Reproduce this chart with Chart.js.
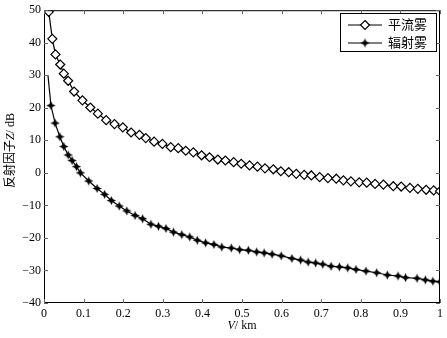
<!DOCTYPE html>
<html>
<head>
<meta charset="utf-8">
<script src="https://cdn.jsdelivr.net/npm/chart.js@4"></script>
<style>
  html, body { margin: 0; padding: 0; background: #fff; }
  #wrap { width: 447px; height: 338px; }
</style>
</head>
<body>
<div id="wrap"><canvas id="c" width="447" height="338"></canvas></div>
<script>
// values
const advX = [0.012, 0.021, 0.029, 0.041, 0.050, 0.061, 0.076, 0.097, 0.117, 0.136, 0.157, 0.178, 0.199, 0.220, 0.241, 0.257, 0.278, 0.299, 0.320, 0.339, 0.358, 0.377, 0.398, 0.418, 0.439, 0.458, 0.479, 0.498, 0.519, 0.539, 0.558, 0.579, 0.598, 0.618, 0.637, 0.657, 0.675, 0.696, 0.717, 0.738, 0.756, 0.775, 0.796, 0.815, 0.836, 0.857, 0.882, 0.902, 0.924, 0.944, 0.965, 0.984, 1.0];
const advY = [49.5, 41.2, 36.4, 33.3, 30.5, 28.3, 25.0, 22.3, 20.1, 18.2, 16.2, 15.0, 14.0, 12.4, 11.7, 10.7, 9.6, 8.9, 7.9, 7.6, 6.8, 6.3, 5.4, 4.8, 4.1, 3.8, 3.3, 2.8, 2.3, 1.9, 1.4, 1.1, 0.5, 0.2, -0.3, -0.6, -0.8, -1.3, -1.6, -1.8, -2.3, -2.6, -2.9, -3.0, -3.4, -3.6, -4.1, -4.2, -4.6, -4.9, -5.2, -5.4, -5.6];

const radX = [0.010, 0.0175, 0.028, 0.040, 0.050, 0.061, 0.071, 0.082, 0.092, 0.113, 0.134, 0.153, 0.170, 0.190, 0.209, 0.230, 0.249, 0.270, 0.289, 0.308, 0.327, 0.348, 0.368, 0.387, 0.408, 0.429, 0.449, 0.473, 0.494, 0.516, 0.537, 0.556, 0.576, 0.599, 0.626, 0.648, 0.667, 0.686, 0.704, 0.725, 0.746, 0.767, 0.788, 0.813, 0.840, 0.867, 0.894, 0.913, 0.942, 0.963, 0.982, 1.0];
const radY = [30.0, 20.7, 15.3, 11.1, 8.1, 5.5, 3.8, 1.9, 0.0, -2.5, -4.8, -6.6, -8.5, -10.2, -11.7, -13.1, -14.1, -15.8, -16.4, -17.1, -18.2, -19.0, -19.7, -20.7, -21.5, -22.0, -22.8, -23.1, -23.6, -23.8, -24.3, -24.6, -25.0, -25.5, -26.3, -26.8, -27.4, -27.7, -28.1, -28.7, -28.9, -29.2, -29.7, -30.2, -30.7, -31.4, -31.7, -32.2, -32.4, -32.9, -33.3, -33.5];

const xTicks = [0, 0.1, 0.2, 0.3, 0.4, 0.5, 0.6, 0.7, 0.8, 0.9, 1];
const yTicks = [-40, -30, -20, -10, 0, 10, 20, 30, 40, 50];
const seriesNames = ['平流雾', '辐射雾'];

const serif = "'Liberation Serif', 'Times New Roman', serif";
const cjk = "'Liberation Serif', 'Noto Sans CJK SC', serif";

// small filled 4-point star for the radiation fog marker
function makeStar() {
    const cv = document.createElement('canvas');
    cv.width = 11; cv.height = 11;
    const g = cv.getContext('2d');
    const c = 5.5, ro = 4.6, ri = 2.0;
    g.beginPath();
    for (let i = 0; i < 8; i++) {
        const a = -Math.PI / 2 + i * Math.PI / 4;
        const r = i % 2 === 0 ? ro : ri;
        const px = c + r * Math.cos(a), py = c + r * Math.sin(a);
        if (i === 0) g.moveTo(px, py); else g.lineTo(px, py);
    }
    g.closePath();
    g.fillStyle = '#000';
    g.fill();
    return cv;
}
const star = makeStar();

const toPts = (xs, ys) => xs.map((x, i) => ({x: x, y: ys[i]}));

// frame, inward ticks, axis titles and legend
const decor = {
    id: 'decor',
    afterDraw(chart) {
        const ctx = chart.ctx, a = chart.chartArea;
        const xs = chart.scales.x, ys = chart.scales.y;
        ctx.save();
        ctx.strokeStyle = '#000';
        ctx.lineWidth = 1;
        ctx.strokeRect(a.left + 0.5, a.top + 0.5, a.right - a.left - 1, a.bottom - a.top - 1);

        ctx.strokeStyle = '#666';
        ctx.beginPath();
        xTicks.forEach(v => {
            const px = Math.round(xs.getPixelForValue(v)) + 0.5;
            ctx.moveTo(px, a.bottom); ctx.lineTo(px, a.bottom - 4);
            ctx.moveTo(px, a.top); ctx.lineTo(px, a.top + 4);
        });
        yTicks.forEach(v => {
            const py = Math.round(ys.getPixelForValue(v)) + 0.5;
            ctx.moveTo(a.left, py); ctx.lineTo(a.left + 4, py);
            ctx.moveTo(a.right, py); ctx.lineTo(a.right - 4, py);
        });
        ctx.stroke();

        // x title: V/ km
        ctx.fillStyle = '#000';
        ctx.textBaseline = 'middle';
        ctx.textAlign = 'left';
        ctx.font = 'italic 12px ' + serif;
        const w1 = ctx.measureText('V').width;
        ctx.font = '12px ' + serif;
        const w2 = ctx.measureText('/ km').width;
        let sx = (a.left + a.right) / 2 - (w1 + w2) / 2;
        ctx.font = 'italic 12px ' + serif;
        ctx.fillText('V', sx, 326);
        ctx.font = '12px ' + serif;
        ctx.fillText('/ km', sx + w1, 326);

        // y title: 反射因子Z/ dB
        ctx.save();
        ctx.translate(11, (a.top + a.bottom) / 2 - 6);
        ctx.rotate(-Math.PI / 2);
        const parts = [['反射因子', '12px ' + cjk], ['Z', 'italic 12px ' + serif], ['/ dB', '12px ' + serif]];
        let tw = 0;
        parts.forEach(p => { ctx.font = p[1]; tw += ctx.measureText(p[0]).width; });
        let tx = -tw / 2;
        parts.forEach(p => { ctx.font = p[1]; ctx.fillText(p[0], tx, 0); tx += ctx.measureText(p[0]).width; });
        ctx.restore();

        // legend
        ctx.strokeStyle = '#000';
        ctx.lineWidth = 1;
        ctx.fillStyle = '#fff';
        ctx.fillRect(340.5, 13.5, 96, 38);
        ctx.strokeRect(340.5, 13.5, 96, 38);
        const rows = [25, 43];
        rows.forEach((ry, i) => {
            ctx.beginPath();
            ctx.lineWidth = 1.2;
            ctx.moveTo(348, ry); ctx.lineTo(382, ry);
            ctx.stroke();
            if (i === 0) {
                ctx.beginPath();
                ctx.moveTo(365, ry - 4.5); ctx.lineTo(369.5, ry);
                ctx.lineTo(365, ry + 4.5); ctx.lineTo(360.5, ry);
                ctx.closePath();
                ctx.fillStyle = '#fff'; ctx.fill();
                ctx.stroke();
            } else {
                ctx.drawImage(star, 365 - 5.5, ry - 5.5);
            }
            ctx.fillStyle = '#000';
            ctx.font = '13px ' + cjk;
            ctx.fillText(seriesNames[i], 388, ry + 1);
        });
        ctx.restore();
    }
};

new Chart(document.getElementById('c'), {
    type: 'scatter',
    data: {
        datasets: [
            {
                label: seriesNames[0],
                data: toPts(advX, advY),
                showLine: true,
                borderColor: '#000',
                borderWidth: 1.2,
                pointStyle: 'rectRot',
                pointRadius: 4.5,
                pointBackgroundColor: '#fff',
                pointBorderColor: '#000',
                pointBorderWidth: 1.2,
                tension: 0
            },
            {
                label: seriesNames[1],
                data: toPts(radX, radY),
                showLine: true,
                borderColor: '#000',
                borderWidth: 1.2,
                pointStyle: star,
                pointRadius: radX.map((_, i) => i === 0 ? 0 : 4),
                tension: 0
            }
        ]
    },
    plugins: [decor],
    options: {
        responsive: false,
        animation: false,
        events: [],
        layout: { padding: { left: 0, right: 4, top: 9, bottom: 0 } },
        plugins: { legend: { display: false }, tooltip: { enabled: false } },
        scales: {
            x: {
                type: 'linear', min: 0, max: 1,
                grid: { display: false, drawTicks: false },
                border: { display: false },
                afterFit: s => { s.height = 35; },
                afterBuildTicks: s => { s.ticks = xTicks.map(v => ({value: v})); },
                ticks: {
                    padding: 4, color: '#000', maxRotation: 0,
                    font: { family: serif, size: 12 },
                    callback: v => String(v)
                }
            },
            y: {
                min: -40, max: 50,
                grid: { display: false, drawTicks: false },
                border: { display: false },
                afterFit: s => { s.width = 44; },
                afterBuildTicks: s => { s.ticks = yTicks.map(v => ({value: v})); },
                ticks: {
                    padding: 3, color: '#000',
                    font: { family: serif, size: 12 },
                    callback: v => v < 0 ? '\u2212' + Math.abs(v) : String(v)
                }
            }
        }
    }
});
</script>
</body>
</html>
